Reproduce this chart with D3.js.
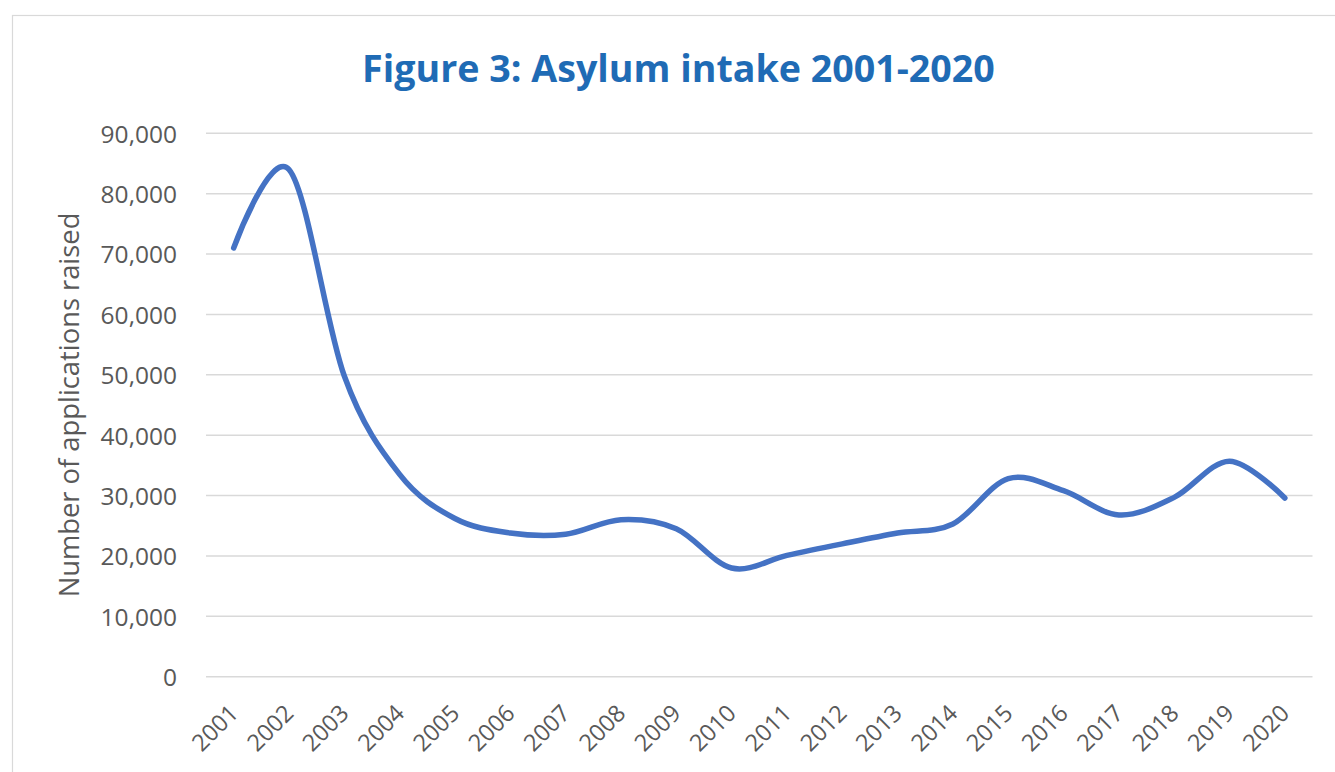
<!DOCTYPE html>
<html>
<head>
<meta charset="utf-8">
<script src="https://cdn.jsdelivr.net/npm/d3@7"></script>
<style>
  html, body { margin: 0; padding: 0; background: #fff; }
  svg { display: block; }
</style>
</head>
<body>
<svg id="chart" width="1335" height="772"></svg>
<script>
const years = ["2001","2002","2003","2004","2005","2006","2007","2008","2009","2010",
               "2011","2012","2013","2014","2015","2016","2017","2018","2019","2020"];
const applications = [71000, 84000, 49800, 33500, 26200, 23800, 23600, 26000, 24500, 18000,
                      20100, 22000, 23800, 25300, 32800, 30800, 26800, 29700, 35700, 29600];
const yTicks = [0, 10000, 20000, 30000, 40000, 50000, 60000, 70000, 80000, 90000];
const titleText = "Figure 3: Asylum intake 2001-2020";
const yTitle = "Number of applications raised";

(function () {
const svg = d3.select("#chart");
const font = "'Open Sans', sans-serif";

// scale a text's font so it spans a target length
function fitText(sel, targetLen, baseSize) {
  sel.attr("font-size", baseSize);
  const len = sel.node().getComputedTextLength();
  if (len > 0) sel.attr("font-size", baseSize * targetLen / len);
}

// outer frame
svg.append("rect").attr("x", 12.5).attr("y", 15.5).attr("width", 1400).attr("height", 900)
  .attr("fill", "#fff").attr("stroke", "#d9d9d9").attr("stroke-width", 1.2);

const plotLeft = 206, plotRight = 1312.5, plotTop = 133.3, plotBottom = 676.7;

const x = d3.scaleBand().domain(years).range([plotLeft, plotRight]);
const y = d3.scaleLinear().domain([0, 90000]).range([plotBottom, plotTop]);

// gridlines
svg.append("g").selectAll("line").data(yTicks).join("line")
  .attr("x1", plotLeft).attr("x2", plotRight)
  .attr("y1", d => y(d)).attr("y2", d => y(d))
  .attr("stroke", "#d9d9d9").attr("stroke-width", 1.5);

// y axis labels
const yAxis = d3.axisLeft(y).tickValues(yTicks).tickSize(0).tickPadding(0)
  .tickFormat(d3.format(","));
const gy = svg.append("g").attr("transform", `translate(177,0)`).call(yAxis);
gy.select(".domain").remove();
gy.selectAll("text").attr("font-family", font).attr("font-size", 24.5)
  .attr("fill", "#595959").attr("dy", "0.36em");

// x axis labels
const xAxis = d3.axisBottom(x).tickSize(0).tickPadding(0);
const gx = svg.append("g").attr("transform", `translate(0,${plotBottom})`).call(xAxis);
gx.select(".domain").remove();
gx.selectAll("text")
  .attr("font-family", font).attr("font-size", 23.5).attr("fill", "#595959")
  .attr("text-anchor", "end").attr("dy", null).attr("y", 0)
  .attr("transform", "translate(6,38) rotate(-45)");

// line
const line = d3.line()
  .x((d, i) => x(years[i]) + x.bandwidth() / 2)
  .y(d => y(d))
  .curve(d3.curveCatmullRom.alpha(0));
svg.append("path").datum(applications)
  .attr("d", line).attr("fill", "none")
  .attr("stroke", "#4472C4").attr("stroke-width", 5.5)
  .attr("stroke-linecap", "round").attr("stroke-linejoin", "round");

// title
const t = svg.append("text").attr("x", 678.5).attr("y", 82)
  .attr("text-anchor", "middle").attr("font-family", font)
  .attr("font-weight", "bold").attr("fill", "#1F6BB5")
  .text(titleText);
fitText(t, 633, 34);

// y title
const yt = svg.append("text")
  .attr("transform", "translate(79,405) rotate(-90)")
  .attr("text-anchor", "middle").attr("font-family", font)
  .attr("fill", "#595959")
  .text(yTitle);
fitText(yt, 385, 24);
})();
</script>
</body>
</html>
